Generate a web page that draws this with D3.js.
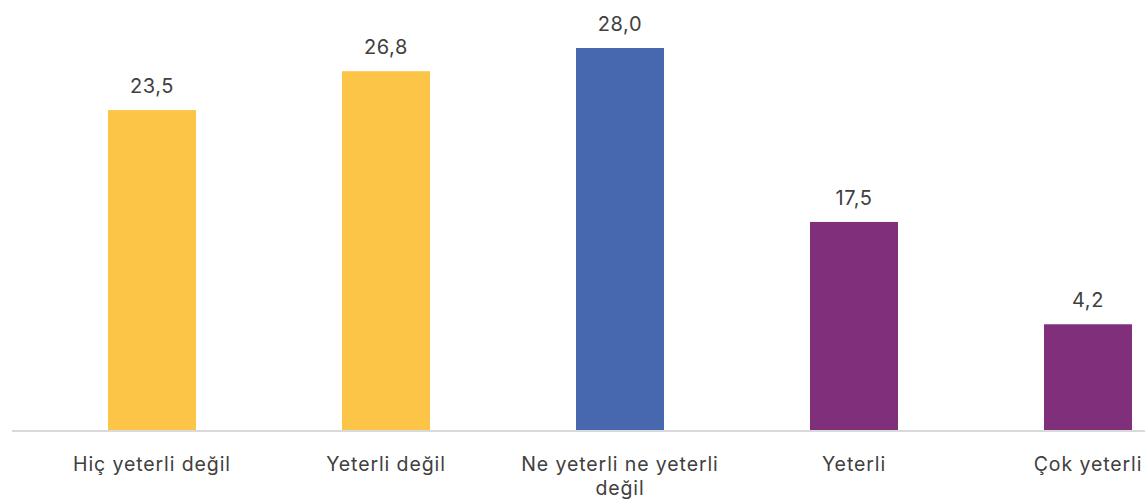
<!DOCTYPE html>
<html>
<head>
<meta charset="utf-8">
<script src="https://cdn.jsdelivr.net/npm/d3@7"></script>
<style>
  html, body { margin: 0; padding: 0; background: #fff; }
  svg { display: block; }
  text { font-family: "Inter", "Open Sans", sans-serif; fill: #404040; }
</style>
</head>
<body>
<svg id="chart" width="1145" height="503"></svg>
<script>
// Categories (Turkish), the printed value labels, bar lengths as drawn, and bar colours
const categories = ["Hiç yeterli değil", "Yeterli değil", "Ne yeterli ne yeterli değil", "Yeterli", "Çok yeterli"];
const valueLabels = [23.5, 26.8, 28.0, 17.5, 4.2];
const barLengths = [23.45, 26.3, 28.0, 15.25, 7.75];
const barColors = ["#FCC548", "#FCC548", "#4768AF", "#80307B", "#80307B"];
const labelLines = [["Hiç yeterli değil"], ["Yeterli değil"], ["Ne yeterli ne yeterli", "değil"], ["Yeterli"], ["Çok yeterli"]];

const svg = d3.select("#chart");
const baseY = 430;

const x = d3.scaleBand()
  .domain(categories)
  .range([35, 1205])
  .paddingInner(0.624)
  .paddingOuter(0.312);

const y = d3.scaleLinear()
  .domain([0, 30])
  .range([baseY, baseY - 30 * (382 / 28)]);

const data = categories.map((c, i) => ({ cat: c, val: valueLabels[i], len: barLengths[i], color: barColors[i], lines: labelLines[i] }));

// bars
svg.append("g").selectAll("rect")
  .data(data)
  .join("rect")
  .attr("x", d => x(d.cat))
  .attr("y", d => y(d.len))
  .attr("width", x.bandwidth())
  .attr("height", d => y(0) - y(d.len))
  .attr("fill", d => d.color);

// baseline axis
const xAxis = d3.axisBottom(x).tickSize(0).tickFormat("");
const axisG = svg.append("g").attr("transform", `translate(0,${baseY + 1})`).call(xAxis);
axisG.select(".domain").remove();
axisG.append("line")
  .attr("x1", 12).attr("x2", 1145)
  .attr("y1", 0).attr("y2", 0)
  .attr("stroke", "#D9D9D9").attr("stroke-width", 2);

// value labels
const fmt = v => d3.format(".1f")(v).replace(".", ",");
svg.append("g").selectAll("text")
  .data(data)
  .join("text")
  .attr("x", d => x(d.cat) + x.bandwidth() / 2)
  .attr("y", d => y(d.len) - 17)
  .attr("text-anchor", "middle")
  .style("font-size", "20px")
  .style("letter-spacing", "0.6px")
  .text(d => fmt(d.val));

// category labels
const catG = svg.append("g").selectAll("text")
  .data(data)
  .join("text")
  .attr("x", d => x(d.cat) + x.bandwidth() / 2)
  .attr("y", 471)
  .attr("text-anchor", "middle")
  .style("font-size", "19.5px")
  .style("letter-spacing", "0.9px");
catG.selectAll("tspan")
  .data(d => d.lines.map((l, i) => ({ l, i, cx: x(d.cat) + x.bandwidth() / 2 })))
  .join("tspan")
  .attr("x", t => t.cx)
  .attr("dy", t => t.i === 0 ? 0 : 24)
  .text(t => t.l);
</script>
</body>
</html>
